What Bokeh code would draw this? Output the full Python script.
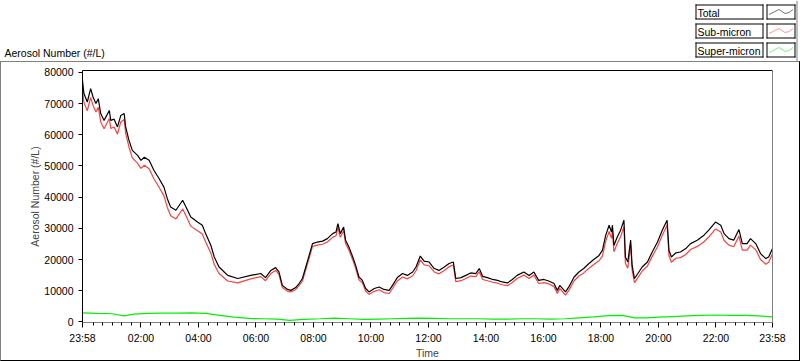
from bokeh.plotting import figure
from bokeh.layouts import column
from bokeh.models import FixedTicker, LinearAxis, Range1d, Label, BoxAnnotation, PolyAnnotation
from bokeh.embed import file_html
from bokeh.resources import INLINE

# ---------------- data ----------------
x_tick_labels = ["23:58", "02:00", "04:00", "06:00", "08:00", "10:00", "12:00",
                 "14:00", "16:00", "18:00", "20:00", "22:00", "23:58"]
y_ticks = [0, 10000, 20000, 30000, 40000, 50000, 60000, 70000, 80000]

total_times = [
    "23:58", "00:01", "00:08", "00:15", "00:20", "00:26", "00:31", "00:36", "00:43", "00:54",
    "00:57", "01:04", "01:11", "01:18", "01:25", "01:28", "01:35", "01:42", "01:53", "02:00",
    "02:07", "02:17", "02:27", "02:38", "02:48", "02:55", "03:02", "03:13", "03:27", "03:34",
    "03:44", "03:58", "04:08", "04:15", "04:26", "04:33", "04:43", "05:01", "05:22", "05:49",
    "06:10", "06:20", "06:31", "06:41", "06:48", "06:55", "07:06", "07:13", "07:23", "07:30",
    "07:37", "07:44", "07:51", "07:58", "08:08", "08:19", "08:29", "08:40", "08:47", "08:51",
    "08:56", "09:03", "09:07", "09:14", "09:22", "09:28", "09:35", "09:42", "09:49", "09:56",
    "10:07", "10:17", "10:27", "10:38", "10:45", "10:55", "11:06", "11:16", "11:27", "11:34",
    "11:43", "11:51", "12:01", "12:12", "12:22", "12:33", "12:43", "12:52", "12:57", "13:08",
    "13:18", "13:28", "13:39", "13:46", "13:53", "14:03", "14:14", "14:24", "14:34", "14:45",
    "14:55", "15:05", "15:19", "15:30", "15:40", "15:50", "16:01", "16:11", "16:22", "16:29",
    "16:34", "16:46", "16:53", "17:04", "17:14", "17:24", "17:35", "17:45", "17:56", "18:03",
    "18:10", "18:17", "18:22", "18:24", "18:27", "18:34", "18:41", "18:48", "18:51", "18:56",
    "19:02", "19:05", "19:10", "19:17", "19:26", "19:37", "19:47", "19:58", "20:08", "20:18",
    "20:22", "20:27", "20:36", "20:46", "20:57", "21:07", "21:21", "21:35", "21:45", "21:59",
    "22:10", "22:17", "22:27", "22:37", "22:48", "22:55", "23:05", "23:12", "23:23", "23:33",
    "23:44", "23:50", "23:58",
]
total_values = [
    77400, 73200, 70500, 74800, 72100, 70000, 71500, 66800, 64600, 67800,
    64600, 65000, 62500, 66200, 66800, 62500, 58200, 55000, 53400, 51800,
    52800, 51800, 48600, 45900, 43200, 39500, 36800, 35800, 39000, 36800,
    33600, 32000, 31000, 28300, 24500, 20800, 17600, 14900, 13900, 14900,
    15500, 14200, 16500, 17400, 16000, 11700, 10400, 10100, 11000, 12300,
    13900, 17600, 21300, 25100, 25600, 25900, 26700, 28300, 28800, 31500,
    28300, 30400, 26200, 24000, 20800, 18100, 14400, 13300, 10700, 9600,
    10700, 11200, 10400, 10100, 11700, 14200, 15500, 14900, 16000, 17600,
    21100, 19500, 19200, 17100, 16500, 17600, 18700, 19200, 13900, 14200,
    14900, 15700, 15500, 17100, 14600, 14200, 13600, 13300, 12800, 12500,
    13600, 14900, 16000, 14900, 16000, 13300, 13600, 13100, 12300, 10100,
    11700, 9600, 11200, 14400, 16000, 17100, 18700, 20000, 21300, 22900,
    27800, 31000, 28800, 31000, 24500, 27200, 29400, 32600, 20800, 19200,
    26200, 18100, 13900, 15500, 17600, 19200, 22400, 25600, 29400, 32600,
    22900, 20800, 22100, 22400, 23500, 25100, 26200, 27800, 29400, 32000,
    31000, 28300, 26700, 26200, 29600, 25100, 25100, 26700, 25100, 21900,
    20300, 20800, 23500,
]
sub_values = [
    74500, 70300, 67700, 72000, 69400, 67300, 68800, 64100, 61900, 65200,
    62000, 62500, 60200, 64100, 64900, 60500, 56000, 52600, 50800, 49200,
    50200, 49100, 45900, 43100, 40400, 36700, 34000, 33000, 36200, 34000,
    30700, 29200, 28200, 25600, 22000, 18400, 15500, 13100, 12500, 13800,
    14500, 13200, 15500, 16500, 15200, 11000, 9800, 9600, 10400, 11600,
    13100, 16800, 20400, 24200, 24600, 24900, 25600, 27100, 27600, 30300,
    27100, 29300, 25100, 23000, 19800, 17200, 13500, 12500, 9900, 8800,
    9800, 10300, 9400, 9100, 10700, 13100, 14400, 13800, 14800, 16400,
    19900, 18300, 18000, 16000, 15400, 16500, 17700, 18200, 12900, 13200,
    13900, 14700, 14500, 16100, 13600, 13200, 12700, 12400, 11900, 11600,
    12600, 13900, 15000, 13900, 15000, 12300, 12600, 12200, 11300, 9100,
    10700, 8600, 10100, 13200, 14700, 15700, 17200, 18400, 19600, 21100,
    25900, 29000, 26800, 29000, 22500, 25100, 27300, 30500, 18700, 17200,
    24500, 16600, 12600, 14200, 16300, 17900, 21000, 24100, 27800, 31000,
    21200, 19100, 20400, 20600, 21600, 23200, 24200, 25700, 27200, 29800,
    28800, 26100, 24600, 24100, 27500, 23000, 23000, 24600, 23100, 20000,
    18500, 19100, 21900,
]
super_times = [
    "23:58", "00:30", "01:00", "01:25", "01:45", "02:15", "02:45", "03:15", "03:45", "04:15",
    "04:45", "05:15", "05:45", "06:15", "06:45", "07:10", "07:40", "08:15", "08:45", "09:15",
    "09:45", "10:15", "10:45", "11:15", "11:45", "12:15", "12:45", "13:15", "13:45", "14:15",
    "14:45", "15:15", "15:45", "16:15", "16:45", "17:15", "17:45", "18:15", "18:45", "19:10",
    "19:35", "20:00", "20:30", "21:00", "21:30", "22:00", "22:30", "23:00", "23:30", "23:58",
]
super_values = [
    2900, 2700, 2600, 1900, 2500, 2700, 2800, 2800, 2900, 2700,
    2100, 1500, 1100, 1000, 900, 500, 800, 1000, 1200, 1000,
    800, 900, 1000, 1100, 1200, 1100, 1000, 1000, 1000, 900,
    900, 1000, 1000, 900, 1000, 1300, 1600, 2000, 2100, 1300,
    1300, 1500, 1700, 1900, 2100, 2200, 2100, 2100, 1900, 1600,
]
legend_names = ["Total", "Sub-micron", "Super-micron"]
legend_colors = ["black", "#ff4040", "#00f000"]
panel_title = "Aerosol Number (#/L)"


def to_minutes(clocks, start="23:58"):
    h0, m0 = map(int, start.split(":"))
    base = h0 * 60 + m0
    out, day, prev = [], 0, None
    for c in clocks:
        h, m = map(int, c.split(":"))
        v = h * 60 + m
        if prev is not None and v < prev:
            day += 1
        prev = v
        out.append(v + day * 1440 - base)
    return out


tx = to_minutes(total_times)
sx = to_minutes(super_times)
x_ticks = to_minutes(x_tick_labels)
minor = [m for m in range(22, 1440, 20) if m not in x_ticks]

FONT = "Liberation Sans"
FS = "10.5px"
GRAY = "#808080"

# ---------------- header strip: panel title + legend ----------------
top = figure(width=800, height=61, x_range=Range1d(0, 800), y_range=Range1d(61, 0),
             output_backend="svg", toolbar_location=None,
             x_axis_location=None, y_axis_location=None, min_border=0)
top.frame_align = False
top.outline_line_color = None
top.grid.visible = False
top.border_fill_color = "white"
top.background_fill_color = "white"


def cbox(l, r, t, b, **kw):
    return BoxAnnotation(left=l, right=r, top=t, bottom=b,
                         left_units="canvas", right_units="canvas",
                         top_units="canvas", bottom_units="canvas",
                         level="overlay", **kw)


top.add_layout(Label(x=4, y=52, x_units="canvas", y_units="canvas", text=panel_title,
                     text_font=FONT, text_font_size=FS, text_baseline="middle",
                     text_align="left", text_color="black"))
top.add_layout(cbox(796, 797, 0, 61, fill_color=GRAY, fill_alpha=1, line_alpha=0))

row_tops = [4, 23, 42]
zig = [(2, 10), (8, 7), (12, 5), (18, 9), (22, 8), (26, 5)]
for name, col, t in zip(legend_names, legend_colors, row_tops):
    # text box and swatch box, drawn as filled 1-px edges for crisp black borders
    for (l, r) in [(695, 763), (766, 795)]:
        top.add_layout(cbox(l, r, t, t + 1, fill_color="black", fill_alpha=1, line_alpha=0))
        top.add_layout(cbox(l, r, t + 14, t + 15, fill_color="black", fill_alpha=1, line_alpha=0))
        top.add_layout(cbox(l, l + 1, t, t + 15, fill_color="black", fill_alpha=1, line_alpha=0))
        top.add_layout(cbox(r - 1, r, t, t + 15, fill_color="black", fill_alpha=1, line_alpha=0))
    top.add_layout(Label(x=697, y=t + 8, x_units="canvas", y_units="canvas", text=name,
                         text_font=FONT, text_font_size=FS, text_baseline="middle",
                         text_align="left", text_color="black"))
    xs = [766.5 + a for a, _ in zig]
    ys = [t + b for _, b in zig]
    xs = xs + xs[-2:0:-1]
    ys = ys + ys[-2:0:-1]
    top.add_layout(PolyAnnotation(xs=xs, ys=ys, xs_units="canvas", ys_units="canvas",
                                  fill_alpha=0, line_color=col, line_width=1, level="overlay"))

# ---------------- main chart ----------------
p = figure(width=800, height=300, x_range=Range1d(0, 1440), y_range=Range1d(-200, 80600),
           output_backend="svg", toolbar_location=None,
           min_border_left=81, min_border_right=29, min_border_top=8, min_border_bottom=40)
p.frame_align = False
p.styles = {"border-left": "1px solid #808080", "border-top": "1px solid #808080",
            "border-right": "1px solid #000000", "border-bottom": "1px solid #000000"}
p.outline_line_color = None
p.grid.visible = False
p.background_fill_color = "white"
p.border_fill_color = "white"

p.line(sx, super_values, line_color="#00f000", line_width=1.2)
p.line(tx, sub_values, line_color="#ff4040", line_width=1.2)
p.line(tx, total_values, line_color="black", line_width=1.2)

xa = p.xaxis[0]
xa.ticker = FixedTicker(ticks=x_ticks, minor_ticks=minor)
xa.major_label_overrides = {t: l for t, l in zip(x_ticks, x_tick_labels)}
xa.axis_line_color = GRAY
xa.major_tick_line_color = "black"
xa.minor_tick_line_color = "black"
xa.major_tick_in = 0
xa.major_tick_out = 5
xa.minor_tick_in = 0
xa.minor_tick_out = 3
xa.major_label_standoff = 4
xa.major_label_text_font = FONT
xa.major_label_text_font_size = FS
xa.major_label_text_color = "black"
xa.axis_label = "Time"
xa.axis_label_text_font = FONT
xa.axis_label_text_font_size = FS
xa.axis_label_text_font_style = "normal"
xa.axis_label_standoff = 0

ya = p.yaxis[0]
ya.ticker = FixedTicker(ticks=y_ticks, minor_ticks=[])
ya.major_label_overrides = {t: str(t) for t in y_ticks}
ya.axis_line_color = "black"
ya.major_tick_line_color = "black"
ya.major_tick_in = 0
ya.major_tick_out = 4
ya.major_label_standoff = 5
ya.major_label_text_font = FONT
ya.major_label_text_font_size = FS
ya.major_label_text_color = "black"
ya.axis_label = "Aerosol Number (#/L)"
ya.axis_label_text_font = FONT
ya.axis_label_text_font_size = FS
ya.axis_label_text_font_style = "normal"
ya.axis_label_standoff = 0


def edge_axis(color):
    return LinearAxis(ticker=FixedTicker(ticks=[]), axis_line_color=color,
                      major_tick_line_color=None, minor_tick_line_color=None,
                      major_tick_out=0, minor_tick_out=0, major_tick_in=0, minor_tick_in=0,
                      major_label_standoff=0, axis_label_standoff=0,
                      major_label_text_font_size="0px")


p.add_layout(edge_axis("black"), "above")
p.add_layout(edge_axis(GRAY), "right")

layout = column(top, p, spacing=0)
open("out.html", "w").write(file_html(layout, INLINE))
